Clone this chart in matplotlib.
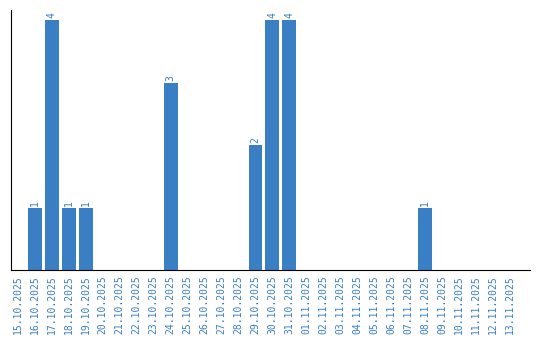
import matplotlib
matplotlib.use("Agg")
import matplotlib.pyplot as plt
import datetime as dt

start = dt.date(2025, 10, 15)
dates = [(start + dt.timedelta(days=i)).strftime("%d.%m.%Y") for i in range(30)]
counts_by_date = {
    "16.10.2025": 1, "17.10.2025": 4, "18.10.2025": 1, "19.10.2025": 1,
    "24.10.2025": 3, "29.10.2025": 2, "30.10.2025": 4, "31.10.2025": 4,
    "08.11.2025": 1,
}
values = [counts_by_date.get(d, 0) for d in dates]

color = "#3a7ec3"
fig = plt.figure(figsize=(5.4, 3.4), dpi=100)
ax = fig.add_axes([11/540, 70/340, 519/540, 260/340])
x = list(range(len(dates)))
bars = ax.bar(x, values, width=0.82, color=color)
for xi, v in zip(x, values):
    if v > 0:
        ax.text(xi, v + 0.03, str(v), rotation=90, ha="center", va="bottom",
                color=color, fontsize=7, family="DejaVu Sans Mono")
ax.set_xlim(-0.41, len(dates) - 1 + 1.18)
ax.set_ylim(0, 4.16)
ax.set_xticks(x)
ax.set_xticklabels(dates, rotation=90, fontsize=7, color=color, family="DejaVu Sans Mono")
ax.tick_params(axis="x", length=0, pad=4)
ax.set_yticks([])
for s in ["top", "right"]:
    ax.spines[s].set_visible(False)
ax.spines["left"].set_color("black")
ax.spines["bottom"].set_color("black")
fig.savefig("out.png", dpi=100)
